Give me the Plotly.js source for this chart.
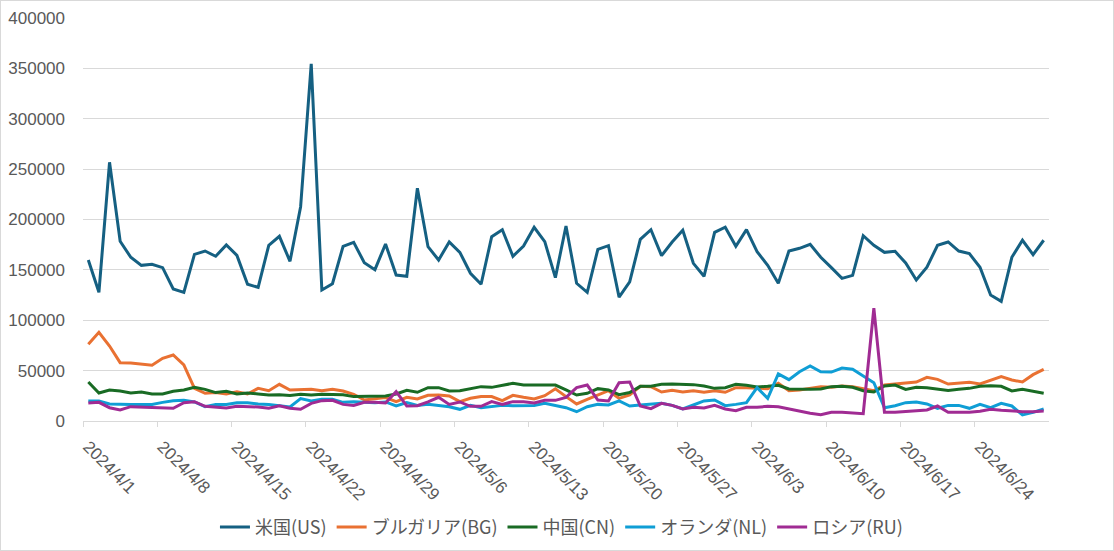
<!DOCTYPE html>
<html>
<head>
<meta charset="utf-8">
<script src="https://cdn.plot.ly/plotly-3.0.1.min.js"></script>
<style>
  html, body { margin: 0; padding: 0; background: #fff; }
  #wrap { position: relative; width: 1114px; height: 551px; }
  #chart { width: 1114px; height: 551px; }
  #border { position: absolute; left: 0; top: 0; width: 1112px; height: 549px; border: 1px solid #d9d9d9; pointer-events: none; }
</style>
</head>
<body>
<div id="wrap"><div id="chart"></div><div id="border"></div></div>
<script>
// Daily categories: 2024/4/1 .. 2024/6/30
const startDate = '2024-04-01';
const dayCount = 91;
const weekLabels = ['2024/4/1','2024/4/8','2024/4/15','2024/4/22','2024/4/29','2024/5/6','2024/5/13','2024/5/20','2024/5/27','2024/6/3','2024/6/10','2024/6/17','2024/6/24'];

const seriesNames = ['米国(US)','ブルガリア(BG)','中国(CN)','オランダ(NL)','ロシア(RU)'];
const seriesColors = ['#156082','#E97132','#196B24','#0F9ED5','#A02B93'];

const us = [159800,127700,256800,178400,162500,154500,155500,152200,131000,127700,
  165400,168700,163500,174700,164400,135700,132700,174400,183300,158500,
  212700,354400,130000,136300,173400,177400,157100,150200,175700,144900,
  143600,231000,173000,159800,177700,167400,146600,135700,183000,189900,
  163500,173700,192200,178000,142300,193600,136700,127700,170400,174000,
  123000,138000,180300,189900,164100,177700,189300,156500,143600,187300,
  192300,173400,189900,168100,154500,136700,168700,171400,175400,162500,
  152200,141600,144600,183900,174400,167400,168400,156800,140000,152600,
  174400,177700,168700,166100,152600,125100,118800,162500,179400,165100,
  179400];

const bg = [76100,88000,74400,57900,57600,56600,55300,62200,65500,55600,
  32400,27500,28200,26800,29100,26800,32400,30100,36400,30700,
  31400,31400,30100,31400,29800,26500,20800,21800,23200,19200,
  23500,21800,25500,25800,24800,19200,22500,24200,24200,20200,
  25500,23500,21800,25100,32000,24200,16900,21500,25800,30100,
  22500,25800,34400,34100,28800,30400,28800,30100,28500,30100,
  28500,33100,33100,32400,32100,37400,30100,30800,32400,34100,
  33400,34700,34100,32400,30100,35700,36700,37400,38700,43300,
  41300,36700,37700,38400,36700,40000,44000,40700,38700,46000,
  51300];

const cn = [38700,27800,30700,29800,27800,28800,26800,26800,29500,30700,
  33400,31400,28200,29500,26800,27800,26800,25800,26100,25400,
  26500,25800,26500,26500,26100,24200,24200,24200,24800,26800,
  30400,28500,33100,33100,29800,30100,32100,34100,33400,35400,
  37400,35700,35700,35700,35700,30800,25800,27500,32100,30800,
  26100,28200,34400,34400,36400,36700,36700,36100,34700,32400,
  33100,36400,35400,33800,34400,35400,31800,31400,31400,31800,
  34100,34400,33400,30100,28800,34700,35700,31400,33400,33100,
  32100,30400,31400,32400,34400,35100,34400,29800,31400,29500,
  27500];

const nl = [19900,19900,16900,16500,16500,16500,16500,18500,20200,20500,
  18900,14200,16500,16500,18200,18200,16900,16500,15200,13900,
  22200,19900,21500,21500,18500,19200,18500,18200,18900,14900,
  18200,15500,16500,15200,14200,11600,15500,13200,14600,15500,
  15200,15200,15500,17500,15000,13200,9200,14200,16500,15900,
  19900,14900,15900,16500,17500,15500,11900,15900,19900,20800,
  15200,16500,18200,33100,22500,46700,41000,48900,54600,48900,
  48600,52600,51300,44700,38000,13200,15200,18200,18900,16900,
  12600,15500,15500,12600,16500,13200,17500,14900,6000,8600,
  11900];

const ru = [17900,18500,13200,10900,14200,13900,13200,13600,12600,18200,
  19200,14600,13600,12900,14600,14200,13900,12600,15200,12600,
  11600,17500,20200,20500,16500,15500,18500,18500,17900,29100,
  14900,15200,18900,23500,16500,18900,14600,14600,19200,16500,
  19200,19200,17900,20500,20500,23500,33100,35700,20800,19900,
  38000,38700,14900,12200,17500,15500,11900,13600,12900,15500,
  11900,10300,13600,13600,14600,14200,11900,9900,7600,6300,
  8600,8600,7600,7300,111900,8600,8600,9300,9900,10900,
  14900,8600,8600,8600,9600,11600,10600,9600,9300,9300,
  9900];

function isoDay(offset) {
  const d = new Date(startDate + 'T00:00:00Z');
  d.setUTCDate(d.getUTCDate() + offset);
  return d.toISOString().slice(0, 10);
}
const dates = [];
for (let i = 0; i < dayCount; i++) dates.push(isoDay(i));

function labelToIso(lbl) {
  const p = lbl.split('/');
  return p[0] + '-' + String(p[1]).padStart(2, '0') + '-' + String(p[2]).padStart(2, '0');
}
// Ticks sit on the boundary before each day (Excel "between tick marks")
function shiftHalf(iso, sign) {
  const d = new Date(iso + 'T00:00:00Z');
  d.setUTCHours(d.getUTCHours() + sign * 12);
  return d.toISOString().slice(0, 19).replace('T', ' ');
}
const tickValsShifted = weekLabels.map(l => shiftHalf(labelToIso(l), -1));

const allSeries = [us, bg, cn, nl, ru];
const traces = allSeries.map((vals, k) => ({
  type: 'scatter',
  mode: 'lines',
  x: dates,
  y: vals,
  name: seriesNames[k],
  line: { color: seriesColors[k], width: 3 },
  hoverinfo: 'x+y+name'
}));

const layout = {
  width: 1114,
  height: 551,
  margin: { l: 83, r: 65, t: 18, b: 130 },
  paper_bgcolor: '#ffffff',
  plot_bgcolor: '#ffffff',
  showlegend: true,
  legend: {
    orientation: 'h',
    xref: 'container',
    yref: 'container',
    x: 0.504, xanchor: 'center',
    y: 0.043, yanchor: 'middle',
    font: { family: 'Noto Sans CJK JP, sans-serif', size: 18, color: '#595959' },
    itemwidth: 30,
    traceorder: 'normal'
  },
  xaxis: {
    type: 'date',
    automargin: false,
    range: [shiftHalf(dates[0], -1), shiftHalf(dates[dates.length - 1], 1)],
    tickmode: 'array',
    tickvals: tickValsShifted,
    ticktext: weekLabels,
    tickangle: 45,
    ticks: 'outside',
    ticklen: 5,
    tickcolor: '#d9d9d9',
    ticklabelstandoff: 3,
    ticklabelshift: 5,
    showgrid: false,
    showline: true,
    linecolor: '#d9d9d9',
    linewidth: 1,
    zeroline: false,
    tickfont: { family: 'Liberation Sans, Arial, sans-serif', size: 17, color: '#595959' }
  },
  yaxis: {
    automargin: false,
    range: [0, 400000],
    tickmode: 'linear',
    tick0: 0,
    dtick: 50000,
    tickformat: 'd',
    showgrid: true,
    gridcolor: '#d9d9d9',
    gridwidth: 1,
    zeroline: false,
    showline: false,
    ticks: '',
    ticklabelstandoff: 17,
    tickfont: { family: 'Liberation Sans, Arial, sans-serif', size: 17, color: '#595959' }
  }
};

Plotly.newPlot('chart', traces, layout, { displayModeBar: false, staticPlot: true });
</script>
</body>
</html>
